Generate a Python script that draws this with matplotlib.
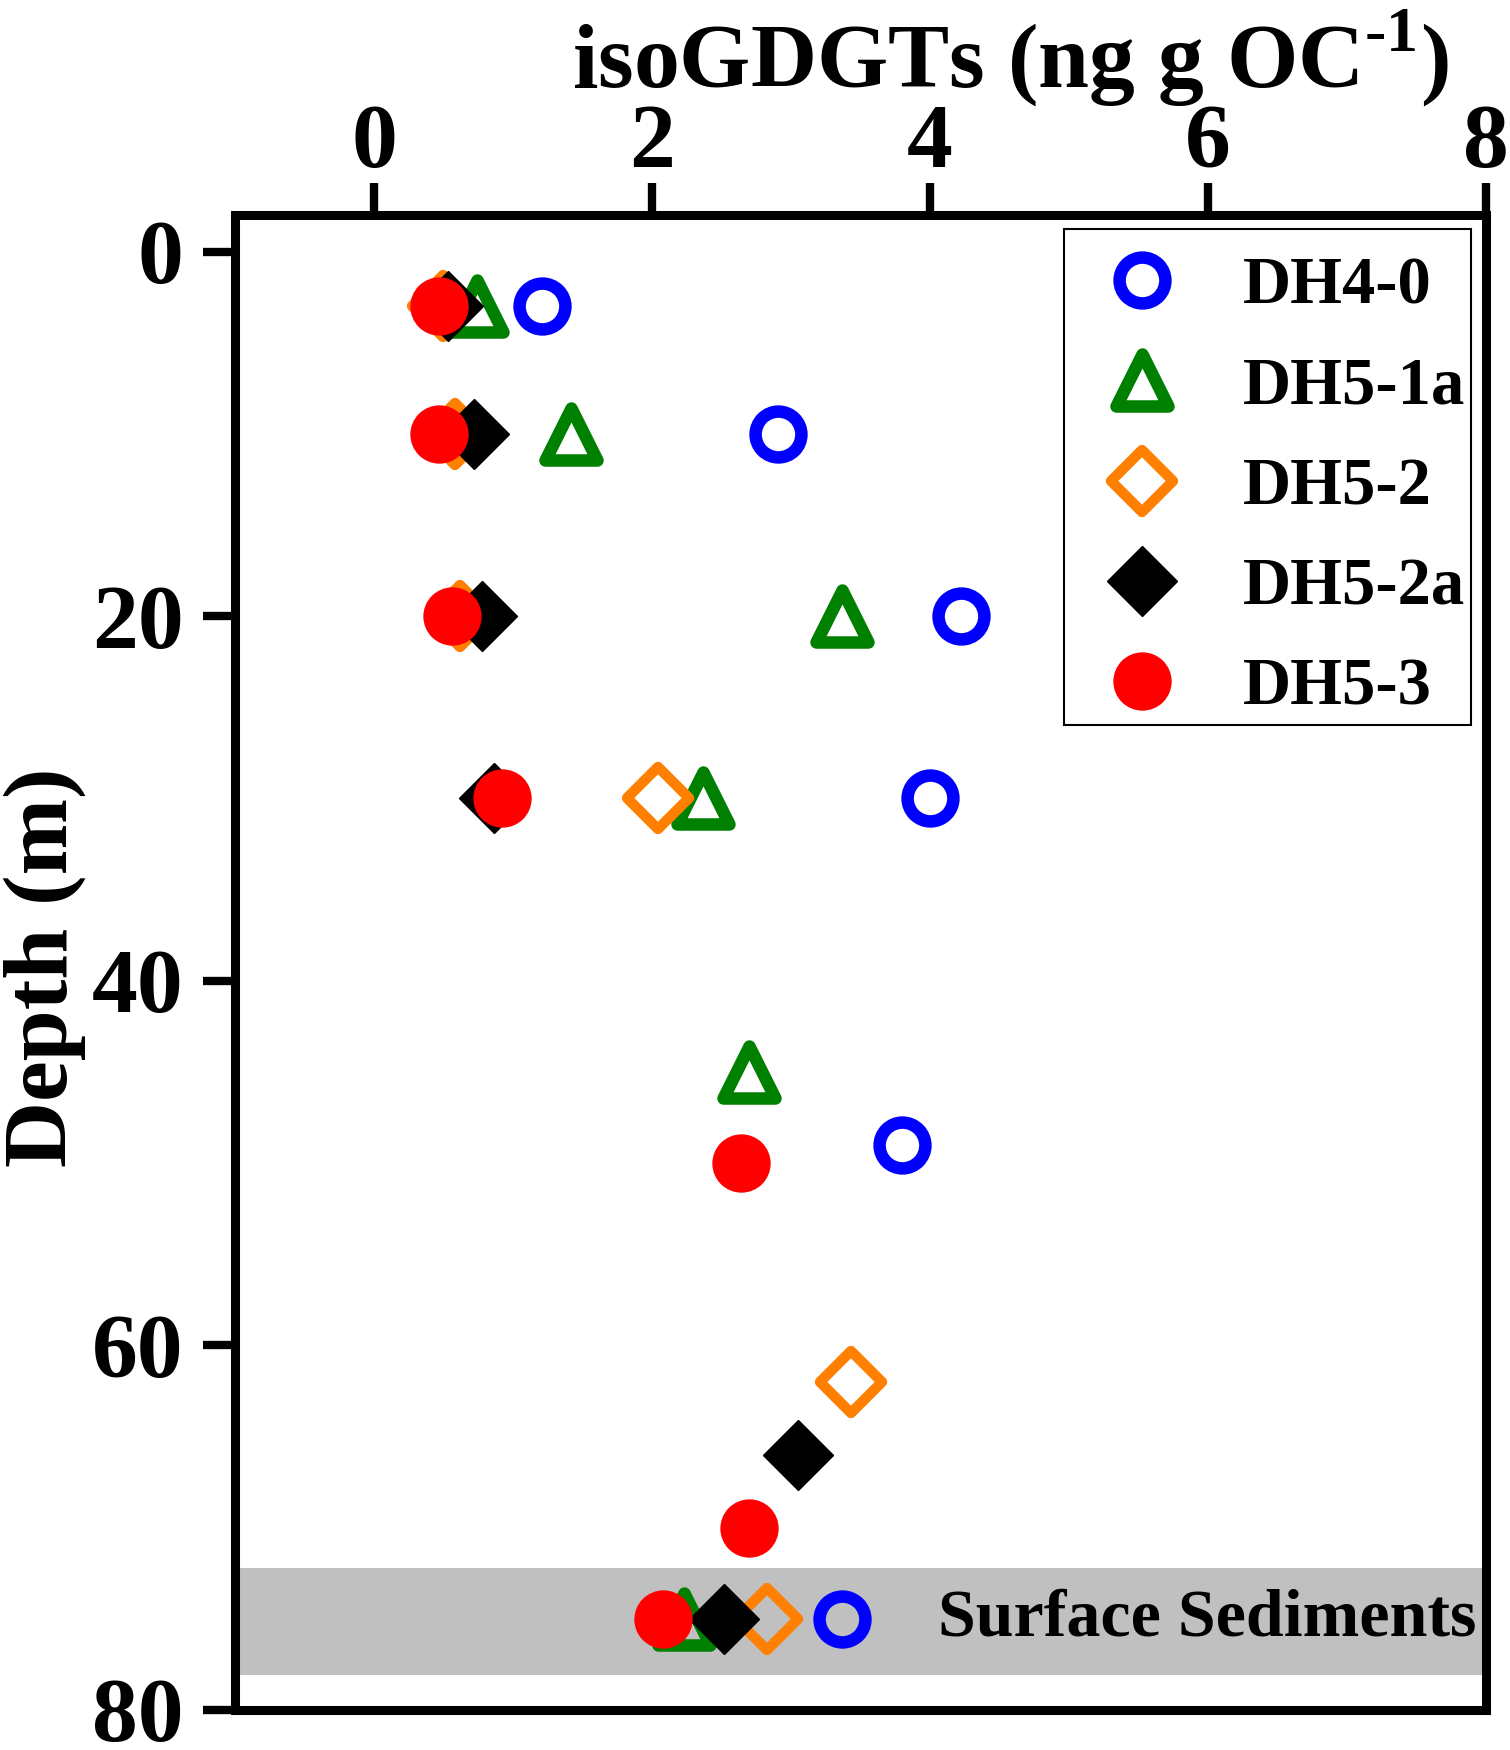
import numpy as np
import matplotlib
matplotlib.use('Agg')
import matplotlib.pyplot as plt
from matplotlib.markers import MarkerStyle
from matplotlib.patches import Rectangle

plt.rcParams['font.family'] = ['Liberation Serif', 'DejaVu Serif']
plt.rcParams['font.weight'] = 'bold'
plt.rcParams['mathtext.fontset'] = 'custom'
plt.rcParams['mathtext.rm'] = 'Liberation Serif:bold'
plt.rcParams['mathtext.bf'] = 'Liberation Serif:bold'

#%% data (x: isoGDGTs, y: depth)
dh40_x = [1.21, 2.91, 4.22, 4.00, 3.80, 3.37]
dh40_y = [3, 10, 20, 30, 49, 75]

dh51a_x = [0.74, 1.42, 3.37, 2.37, 2.70, 2.23]
dh51a_y = [3, 10, 20, 30, 45, 75]

dh52_x = [0.50, 0.58, 0.62, 2.04, 3.43, 2.83]
dh52_y = [3, 10, 20, 30, 62, 75]

dh52a_x = [0.53, 0.72, 0.78, 0.86, 3.05, 2.52]
dh52a_y = [3, 10, 20, 30, 66, 75]

dh53_x = [0.47, 0.47, 0.56, 0.92, 2.64, 2.70, 2.08]
dh53_y = [3, 10, 20, 30, 50, 70, 75]

surface_band = (72.2, 78.1)

#%%
fig = plt.figure(figsize=(15.1, 17.5), dpi=100)
ax = fig.add_axes([0.1556, 0.0229, 0.8285, 0.8542])

ax.axhspan(*surface_band, color='#c0c0c0', lw=0, zorder=0)

tri = MarkerStyle('^', joinstyle='round')
dia = MarkerStyle('D', joinstyle='round')

ax.plot(dh40_x, dh40_y, 'o', ls='none', ms=33, mfc='none', mec='#0000ff',
        mew=9, label='DH4-0')
ax.plot(dh51a_x, dh51a_y, marker=tri, ls='none', ms=38, mfc='none',
        mec='#008000', mew=9, label='DH5-1a')
ax.plot(dh52_x, dh52_y, marker=dia, ls='none', ms=32, mfc='none',
        mec='#ff8000', mew=7.5, label='DH5-2')
ax.plot(dh52a_x, dh52a_y, 'D', ls='none', ms=36, mfc='black', mec='black',
        mew=1, label='DH5-2a')
ax.plot(dh53_x, dh53_y, 'o', ls='none', ms=41, mfc='#ff0000', mec='#ff0000',
        mew=1, label='DH5-3')

ax.text(7.93, 75, 'Surface Sediments', ha='right', va='center', fontsize=49,
        fontweight='bold')

ax.set_xlim(-1, 8)
ax.set_ylim(80, -2)
ax.set_xticks(np.arange(0, 9, 2))
ax.set_yticks(np.arange(0, 81, 20))

ax.xaxis.tick_top()
ax.xaxis.set_label_position('top')
ax.tick_params(axis='both', which='major', labelsize=66, length=23, width=6,
               direction='out', pad=14)
ax.tick_params(axis='x', pad=-2)
for sp in ax.spines.values():
    sp.set_linewidth(6.5)

ax.set_xlabel(r'isoGDGTs (ng g OC$^{\text{-1}}$)', fontsize=66,
              fontweight='bold', labelpad=12, x=0.62)
ax.set_ylabel('Depth (m)', fontsize=66, fontweight='bold', labelpad=4,
              y=0.497)

# legend box drawn separately, entries placed inside it
ax.add_patch(Rectangle((0.663, 0.659), 0.325, 0.3316, transform=ax.transAxes,
                       fill=True, facecolor='white', edgecolor='black',
                       lw=1.5, zorder=4))
leg = ax.legend(loc='upper right', bbox_to_anchor=(0.997, 0.9835),
                borderaxespad=0, fontsize=48, frameon=False,
                handletextpad=0.54, borderpad=0.25, labelspacing=0.59,
                markerscale=1.0, handlelength=1.95)
leg.set_zorder(5)

fig.savefig('out.png', dpi=100)
